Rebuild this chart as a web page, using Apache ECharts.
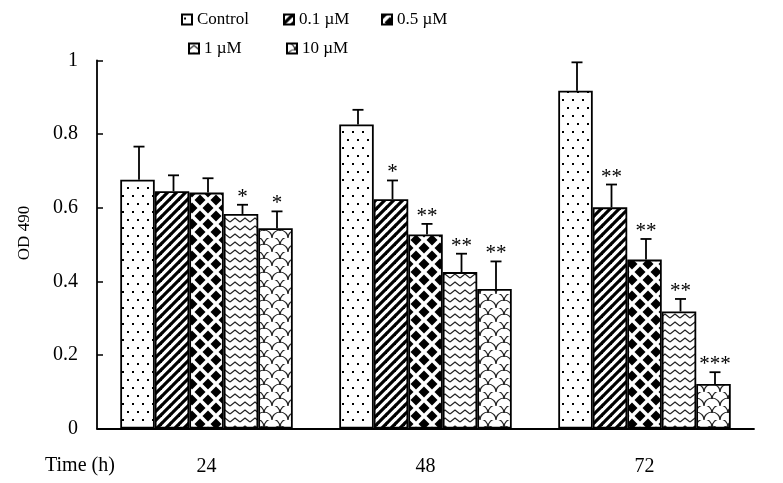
<!DOCTYPE html>
<html>
<head>
<meta charset="utf-8">
<script src="https://cdn.jsdelivr.net/npm/echarts@6/dist/echarts.min.js"></script>
<style>html,body{margin:0;padding:0;background:#fff}#c{width:783px;height:483px}</style>
</head>
<body>
<div id="c"></div>
<script>
// ---- data ----
const categories = ['24', '48', '72'];
const seriesNames = ['Control', '0.1 \u00b5M', '0.5 \u00b5M', '1 \u00b5M', '10 \u00b5M'];
const controlVals = [0.676, 0.826, 0.918];
const controlErr  = [0.090, 0.040, 0.077];
const c01Vals = [0.645, 0.623, 0.601];
const c01Err  = [0.043, 0.051, 0.062];
const c05Vals = [0.641, 0.527, 0.459];
const c05Err  = [0.039, 0.029, 0.056];
const c1Vals  = [0.583, 0.425, 0.318];
const c1Err   = [0.025, 0.050, 0.034];
const c10Vals = [0.544, 0.379, 0.121];
const c10Err  = [0.046, 0.075, 0.032];
const controlStars = ['', '', ''];
const c01Stars = ['', '*', '**'];
const c05Stars = ['', '**', '**'];
const c1Stars  = ['*', '**', '**'];
const c10Stars = ['*', '**', '***'];
const yTicks = [0, 0.2, 0.4, 0.6, 0.8, 1];

const allVals = [controlVals, c01Vals, c05Vals, c1Vals, c10Vals];
const allErr = [controlErr, c01Err, c05Err, c1Err, c10Err];
const allStars = [controlStars, c01Stars, c05Stars, c1Stars, c10Stars];

// ---- patterns ----
function tile(w, h, draw) {
  const cv = document.createElement('canvas');
  cv.width = w; cv.height = h;
  const ctx = cv.getContext('2d');
  ctx.fillStyle = '#fff'; ctx.fillRect(0, 0, w, h);
  ctx.fillStyle = '#000'; ctx.strokeStyle = '#000';
  draw(ctx);
  return { image: cv, repeat: 'repeat' };
}
const patterns = [
  tile(10, 16, c => { c.fillRect(2, 3, 2, 2); c.fillRect(7, 11, 2, 2); }),
  tile(9, 9, c => {
    c.lineWidth = 3.2;
    for (let k = -9; k <= 9; k += 9) { c.beginPath(); c.moveTo(k - 1, 10); c.lineTo(k + 10, -1); c.stroke(); }
  }),
  tile(16, 16, c => {
    const d = (x, y, r) => { c.beginPath(); c.moveTo(x, y - r); c.lineTo(x + r, y); c.lineTo(x, y + r); c.lineTo(x - r, y); c.closePath(); c.fill(); };
    d(8, 8, 5.5); d(0, 0, 5.5); d(16, 0, 5.5); d(0, 16, 5.5); d(16, 16, 5.5);
  }),
  tile(10, 8, c => {
    c.lineWidth = 1.3; c.strokeStyle = '#222';
    c.beginPath(); c.moveTo(0, 6); c.lineTo(5, 2); c.lineTo(10, 6); c.stroke();
  }),
  tile(16, 14, c => {
    c.lineWidth = 1.2; c.strokeStyle = '#222';
    c.beginPath(); c.arc(8, 14, 8, Math.PI, 2 * Math.PI); c.stroke();
    c.beginPath(); c.arc(0, 7, 8, Math.PI * 1.5, 2 * Math.PI); c.stroke();
    c.beginPath(); c.arc(16, 7, 8, Math.PI, Math.PI * 1.5); c.stroke();
  })
];

const BW = 34.5;
const FONT = 'Liberation Serif';

const barSeries = seriesNames.map((n, i) => ({
  name: n, type: 'bar', data: allVals[i], barWidth: BW, barGap: '0%',
  itemStyle: { color: patterns[i], borderColor: '#000', borderWidth: 1.8 },
  emphasis: { disabled: true }, animation: false
}));

const errData = [];
const errStars = [];
for (let s = 0; s < 5; s++) {
  for (let k = 0; k < 3; k++) {
    errData.push([k, s, allVals[s][k], allErr[s][k]]);
    errStars.push(allStars[s][k]);
  }
}

const errSeries = {
  type: 'custom', z: 10, animation: false, silent: true,
  data: errData,
  renderItem: function (params, api) {
    const k = api.value(0), s = api.value(1), v = api.value(2), e = api.value(3);
    const b = api.coord([k, v]);
    const t = api.coord([k, v + e]);
    const x = b[0] + (s - 2) * BW + 1.5;
    const children = [
      { type: 'line', shape: { x1: x, y1: b[1], x2: x, y2: t[1] }, style: { stroke: '#000', lineWidth: 1.8 } },
      { type: 'line', shape: { x1: x - 5.5, y1: t[1], x2: x + 5.5, y2: t[1] }, style: { stroke: '#000', lineWidth: 1.8 } }
    ];
    const st = errStars[params.dataIndex];
    if (st) {
      children.push({ type: 'text', style: { text: st, x: x, y: t[1] + 3, align: 'center', verticalAlign: 'bottom', font: '21px "' + FONT + '"', fill: '#000' } });
    }
    return { type: 'group', children };
  }
};

function leg(name, left, top) {
  return { data: [name], left, top, icon: 'rect', itemWidth: 10, itemHeight: 10, itemGap: 0, selectedMode: false,
    textStyle: { fontFamily: FONT, fontSize: 17, color: '#000' } };
}

const chart = echarts.init(document.getElementById('c'), null, { renderer: 'canvas' });
chart.setOption({
  backgroundColor: '#fff',
  animation: false,
  textStyle: { fontFamily: FONT },
  legend: [
    leg(seriesNames[0], 176, 6),
    leg(seriesNames[1], 278, 6),
    leg(seriesNames[2], 376, 6),
    leg(seriesNames[3], 183, 35),
    leg(seriesNames[4], 281, 35)
  ],
  grid: { left: 97, right: 29, top: 60.5, bottom: 54.5, containLabel: false },
  xAxis: {
    type: 'category', data: categories,
    axisLine: { lineStyle: { color: '#000', width: 1.8 } },
    axisTick: { inside: true, length: 6, lineStyle: { color: '#000', width: 1.5 } },
    axisLabel: { color: '#000', fontSize: 20, fontFamily: FONT, margin: 28 }
  },
  yAxis: {
    type: 'value', min: yTicks[0], max: yTicks[yTicks.length - 1], interval: 0.2,
    axisLine: { show: true, lineStyle: { color: '#000', width: 1.8 } },
    axisTick: { show: true, inside: true, length: 6, lineStyle: { color: '#000', width: 1.5 } },
    axisLabel: { color: '#000', fontSize: 20, fontFamily: FONT, margin: 19 },
    splitLine: { show: false }
  },
  graphic: [
    { type: 'text', left: 45, top: 456, style: { text: 'Time (h)', font: '20px "' + FONT + '"', fill: '#000' } },
    { type: 'text', x: 25, y: 233, rotation: Math.PI / 2, style: { text: 'OD 490', align: 'center', verticalAlign: 'middle', font: '17px "' + FONT + '"', fill: '#000' } }
  ],
  series: barSeries.concat([errSeries])
});
</script>
</body>
</html>
